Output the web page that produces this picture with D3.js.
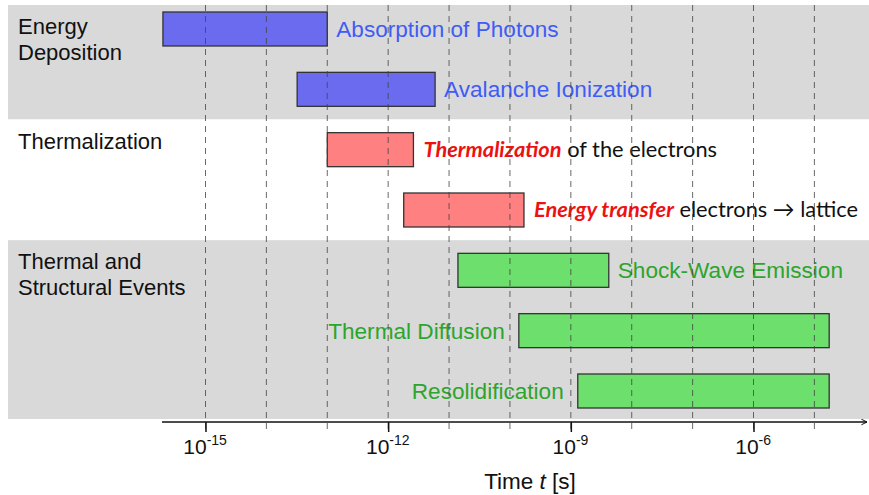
<!DOCTYPE html>
<html>
<head>
<meta charset="utf-8">
<script src="https://cdn.jsdelivr.net/npm/d3@7/dist/d3.min.js"></script>
<style>
  body { margin: 0; background: #fff; }
  svg { display: block; font-family: "Liberation Sans", Arial, sans-serif; }
</style>
</head>
<body>
<div id="chart"></div>
<script>
// phase groups (rows are grouped into these)
const groupNames = [["Energy", "Deposition"], ["Thermalization"], ["Thermal and", "Structural Events"]];
const groupRows = [[0, 1], [2, 3], [4, 6]];
const groupShaded = [true, false, true];

// processes, one per row
const processes = ["Absorption of Photons", "Avalanche Ionization", "Thermalization", "Energy transfer",
  "Shock-Wave Emission", "Thermal Diffusion", "Resolidification"];
const processSuffix = ["", "", " of the electrons", " electrons \u2192 lattice", "", "", ""];
const processGroup = [0, 0, 1, 1, 2, 2, 2];
const labelSide = ["right", "right", "right", "right", "right", "left", "left"];

// time ranges in seconds
const startTimes = [2.0e-16, 3.2e-14, 1.0e-13, 1.8e-12, 1.4e-11, 1.4e-10, 1.3e-9];
const endTimes = [1.0e-13, 5.9e-12, 2.6e-12, 1.7e-10, 4.2e-9, 1.75e-5, 1.75e-5];

// axis ticks
const gridTicks = [1e-15, 1e-14, 1e-13, 1e-12, 1e-11, 1e-10, 1e-9, 1e-8, 1e-7, 1e-6, 1e-5];
const labelTicks = [1e-15, 1e-12, 1e-9, 1e-6];
const tickExponents = ["-15", "-12", "-9", "-6"];

const width = 869, height = 495;
const fills = ["#6b6bef", "#ff8080", "#6ddf6d"];
const textColors = ["#3f5cf5", "#ee1111", "#2ca52c"];

const svg = d3.select("#chart").append("svg")
  .attr("width", width)
  .attr("height", height);

const x = d3.scaleLog().domain([1e-15, 1e-6]).range([205.5, 753.5]);
const y = d3.scalePoint().domain(d3.range(processes.length)).range([29, 391]);
const barH = 34;
const axisY = 422;

// group bands
const bandTop = function (g) {
  const r = groupRows[g][0];
  return r === 0 ? y(r) - 24 : (y(r) + y(r - 1)) / 2;
};
const bandBottom = function (g) {
  const r = groupRows[g][1];
  return r === processes.length - 1 ? y(r) + 28 : (y(r) + y(r + 1)) / 2;
};

svg.selectAll(".band")
  .data(groupNames)
  .enter().append("rect")
  .attr("class", "band")
  .attr("x", 8)
  .attr("y", function (d, i) { return bandTop(i); })
  .attr("width", width - 8)
  .attr("height", function (d, i) { return bandBottom(i) - bandTop(i); })
  .style("fill", function (d, i) { return groupShaded[i] ? "#d9d9d9" : "#fff"; });

// group titles
const titles = svg.selectAll(".group-title")
  .data(groupNames)
  .enter().append("text")
  .attr("class", "group-title")
  .attr("x", 18)
  .attr("y", function (d, i) { return bandTop(i) + 29; })
  .style("font-size", "22px")
  .style("fill", "#111");
titles.selectAll("tspan")
  .data(function (d) { return d; })
  .enter().append("tspan")
  .attr("x", 18)
  .attr("dy", function (d, i) { return i === 0 ? 0 : 26; })
  .text(function (d) { return d; });

// bars
svg.selectAll(".bar")
  .data(processes)
  .enter().append("rect")
  .attr("class", "bar")
  .attr("x", function (d, i) { return x(startTimes[i]); })
  .attr("y", function (d, i) { return y(i) - barH / 2; })
  .attr("width", function (d, i) { return x(endTimes[i]) - x(startTimes[i]); })
  .attr("height", barH)
  .style("fill", function (d, i) { return fills[processGroup[i]]; })
  .style("stroke", "#333")
  .style("stroke-width", 1.3);

// bar labels
const labels = svg.selectAll(".bar-label")
  .data(processes)
  .enter().append("text")
  .attr("class", "bar-label")
  .attr("x", function (d, i) {
    return labelSide[i] === "right" ? x(endTimes[i]) + 9 : x(startTimes[i]) - 14;
  })
  .attr("y", function (d, i) { return y(i) + 8; })
  .attr("text-anchor", function (d, i) { return labelSide[i] === "right" ? "start" : "end"; })
  .style("font-size", "22.6px")
  .style("fill", function (d, i) { return textColors[processGroup[i]]; });

labels.each(function (d, i) {
  const t = d3.select(this);
  if (processGroup[i] === 1) {
    t.attr("x", x(endTimes[i]) + 10)
      .attr("y", y(i) + 7)
      .style("font-family", "Lato, 'Open Sans', sans-serif")
      .style("font-size", "21.8px");
    t.append("tspan")
      .style("font-weight", "bold")
      .style("font-style", "italic")
      .text(d);
    t.append("tspan")
      .style("fill", "#111")
      .text(processSuffix[i]);
  } else {
    t.text(d);
  }
});

// dashed decade grid, drawn over everything like the original
svg.selectAll(".grid")
  .data(gridTicks)
  .enter().append("line")
  .attr("class", "grid")
  .attr("x1", function (d) { return x(d); })
  .attr("x2", function (d) { return x(d); })
  .attr("y1", bandTop(0))
  .attr("y2", axisY + 11)
  .style("stroke", "#444")
  .style("stroke-opacity", 0.8)
  .style("stroke-dasharray", "6,5");

// axis
const axis = d3.axisBottom(x)
  .tickValues(labelTicks)
  .tickSize(10)
  .tickSizeOuter(0)
  .tickPadding(8)
  .tickFormat(function () { return ""; });

const gAxis = svg.append("g")
  .attr("transform", `translate(0, ${axisY})`)
  .call(axis);
gAxis.select(".domain").remove();
gAxis.selectAll(".tick line").style("stroke", "#111").style("stroke-width", 1.5);
gAxis.selectAll(".tick text")
  .attr("text-anchor", "end")
  .attr("x", 0)
  .attr("y", 32)
  .attr("dy", null)
  .style("font-family", "'Liberation Sans', Arial, sans-serif")
  .style("font-size", "21px")
  .style("fill", "#111")
  .each(function (d, i) {
    const t = d3.select(this);
    t.append("tspan").text("10");
    t.append("tspan")
      .attr("dy", -9)
      .style("font-size", "14px")
      .text(tickExponents[i]);
  })
  .attr("transform", function () {
    return "translate(" + (this.getBBox().width / 2 - 1) + ",0)";
  });

// axis line with open arrowhead
svg.append("defs").append("marker")
  .attr("id", "arrow")
  .attr("viewBox", "0 0 10 10")
  .attr("refX", 9)
  .attr("refY", 5)
  .attr("markerWidth", 7)
  .attr("markerHeight", 7)
  .attr("markerUnits", "userSpaceOnUse")
  .attr("orient", "auto")
  .append("path")
  .attr("d", "M1,1 L9,5 L1,9")
  .style("fill", "none")
  .style("stroke", "#111")
  .style("stroke-width", 1.4);

svg.append("line")
  .attr("x1", 162)
  .attr("x2", 867)
  .attr("y1", axisY)
  .attr("y2", axisY)
  .style("stroke", "#111")
  .style("stroke-width", 1.5)
  .attr("marker-end", "url(#arrow)");

// axis title
const axisTitle = svg.append("text")
  .attr("x", 530)
  .attr("y", 489)
  .attr("text-anchor", "middle")
  .style("font-size", "22.5px")
  .style("fill", "#111");
axisTitle.append("tspan").text("Time ");
axisTitle.append("tspan").style("font-style", "italic").text("t");
axisTitle.append("tspan").text(" [s]");
</script>
</body>
</html>
